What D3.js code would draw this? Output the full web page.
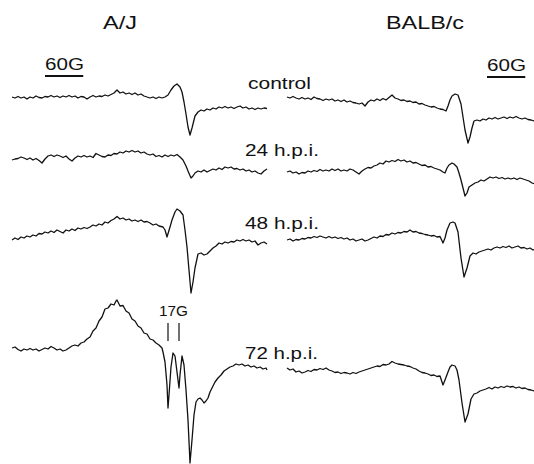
<!DOCTYPE html>
<html>
<head>
<meta charset="utf-8">
<script src="https://cdn.jsdelivr.net/npm/d3@7"></script>
<style>
  body { margin: 0; background: #fff; }
  text { font-family: "Liberation Sans", Arial, sans-serif; fill: #111; }
</style>
</head>
<body>
<svg class="chart" width="534" height="464"></svg>
<script>
// EPR spectra, [point, signal] pairs (signal in arbitrary units, up = positive)
let strains = ["A/J", "BALB/c"];
let timepoints = ["control", "24 h.p.i.", "48 h.p.i.", "72 h.p.i."];
let scaleBarG = 60;
let splittingLabel = "17G";
let hfPoints = [156, 167];   // the two resolved lines in A/J 72 h.p.i.
let sweepG = 400, nPoints = 255;

let ajControl = [[0,3],[3,2],[6,3.5],[9,2],[12,3],[15,1],[18,3],[21,2],[24,4],[27,2.5],[30,2],[33,3.5],[36,3],[39,4.5],[42,3],[45,4],[48,2.5],[51,4],[54,3],[57,4.5],[60,3],[63,4],[66,2],[69,3.5],[72,3],[75,1],[78,3],[81,4.5],[84,3],[87,4],[90,3.5],[93,5],[96,4],[99,5.5],[102,7],[105,10],[108,7],[111,8],[114,6],[117,7],[120,5.5],[123,7],[126,5],[129,6],[132,4],[135,3],[138,2],[141,3],[144,1.5],[147,3],[150,2],[153,3],[156,5],[159,10],[162,14],[165,16],[168,13],[170,8],[172,-2],[174,-14],[176,-27],[178,-35],[180,-28],[183,-16],[186,-12],[189,-10],[192,-11],[195,-9],[198,-10],[201,-8],[204,-9],[207,-7],[210,-8],[213,-6.5],[216,-8],[219,-7],[222,-8.5],[225,-7],[228,-6],[231,-8],[234,-7],[237,-9],[240,-8],[243,-9.5],[246,-8],[249,-9],[252,-8],[255,-8.5]];
let aj24 = [[0,10],[3,11],[6,11.5],[9,13],[12,12],[15,10.5],[18,12],[21,10],[24,11.5],[27,9.5],[30,7],[33,11],[36,14],[39,15],[42,13.5],[45,15],[48,14],[51,12.5],[54,14],[57,11],[60,9],[63,12],[66,14],[69,13],[72,14.5],[75,13],[78,14],[81,12.5],[84,16.5],[87,15],[90,13.5],[93,13],[96,15],[99,14.5],[102,16.5],[105,16],[108,18],[111,17],[114,19],[117,18],[120,19.5],[123,18],[126,19],[129,17],[132,18],[135,16],[138,15],[141,16],[144,13.5],[147,14.5],[150,13],[153,15],[156,13.5],[159,15],[162,14],[165,15.5],[168,13],[171,10],[174,4],[176,-1],[179,-8],[181,-6],[183,-3],[186,-1],[189,-2],[192,0],[195,-2],[198,-0.5],[201,1],[204,0],[207,2],[210,0.5],[213,3],[216,2],[219,3],[222,1],[225,1.5],[228,0],[231,1],[234,-1],[237,0],[240,-2],[243,-1],[246,-3],[249,-4],[252,-1],[255,1]];
let aj48 = [[0,0],[3,2],[6,0.5],[9,3],[12,2],[15,4],[18,3],[21,5],[24,4],[27,6.5],[30,6],[33,8],[36,7],[39,9],[42,7.5],[45,10],[48,8.5],[51,7],[54,10],[57,9],[60,11],[63,9.5],[66,12],[69,11],[72,12.5],[75,11.5],[78,13],[81,15],[84,14],[87,16],[90,15],[93,18],[96,17],[99,19.5],[102,21],[105,23.5],[108,21],[111,22],[114,20],[117,21],[120,19],[123,20],[126,18.5],[129,20],[132,18],[135,18.5],[138,17],[141,15],[144,16],[147,14],[151,13],[153,10],[155,3],[158,13],[160,20],[163,28],[165,31],[168,29],[171,25],[173,10],[175,-7],[177,-30],[179,-53],[181,-42],[183,-28],[186,-14],[189,-13],[192,-15],[195,-14],[198,-11],[201,-8],[204,-6],[207,-3],[210,-4],[213,-2],[216,-3],[219,-1.5],[222,-2],[225,0],[228,-1],[231,0.5],[234,-1],[237,0],[240,-2],[243,-1],[246,-5],[249,-3],[252,-2],[255,-4]];
let aj72 = [[0,2],[3,3],[6,0.5],[9,-1],[12,1],[15,0],[18,1.5],[21,0],[24,1],[27,-1],[30,0.5],[33,2],[36,1],[39,3.5],[42,2],[45,0],[48,1],[51,-1],[54,0],[57,2],[60,4],[63,5],[66,4],[69,7],[72,8],[75,11],[78,13],[81,19],[84,22],[87,29],[90,33],[93,41],[96,42],[99,46],[102,45],[104,49],[105,50],[108,44],[111,44.5],[114,39],[117,37],[120,31],[123,29],[126,24],[129,22],[132,17],[135,16],[138,11],[141,10],[144,7],[147,5],[150,2],[151,-2],[153,-12],[155,-35],[156,-58],[157,-45],[159,-17],[161,-3],[163,-6],[165,-22],[167,-38],[168,-25],[170,-6],[172,-15],[174,-40],[176,-70],[178,-113],[180,-90],[182,-65],[184,-52],[186,-49],[188,-48],[190,-50],[192,-53],[194,-51],[196,-48],[198,-42],[200,-38],[203,-32],[206,-28],[209,-25],[212,-21],[215,-19],[218,-17],[221,-16],[224,-14],[227,-15],[230,-14],[233,-16],[236,-15],[239,-17],[242,-16],[245,-18],[248,-17],[251,-19],[254,-18],[255,-20]];

let balbControl = [[0,3],[3,2],[6,3.5],[9,2],[12,1],[15,2.5],[18,1],[21,2],[24,0.5],[27,3],[30,1.5],[33,1],[36,-0.5],[39,1],[42,0],[45,1],[48,-1],[51,0],[54,-1.5],[57,0],[60,-2],[63,-1],[66,-2.5],[69,-3],[72,-4],[75,-3],[78,-6],[81,-2],[84,0],[87,-1],[90,1],[93,-0.5],[96,1.5],[99,0],[102,2.5],[105,5],[108,2],[111,1],[114,-0.5],[117,0],[120,-1.5],[123,-1],[126,-2.5],[129,-2],[132,-4],[135,-3.5],[138,-5],[141,-6],[144,-7],[147,-6.5],[150,-8],[153,-9],[156,-9.5],[159,-11],[161,-6],[163,0],[165,4],[168,6],[171,5],[174,-4],[176,-17],[178,-30],[181,-43],[183,-37],[185,-28],[187,-21],[190,-20],[193,-21],[196,-19],[199,-20],[202,-18],[205,-19],[208,-17.5],[211,-19],[214,-18],[217,-17],[220,-18.5],[223,-17],[226,-18],[229,-16.5],[232,-18],[235,-19],[238,-18],[241,-19.5],[244,-20],[247,-21],[250,-20]];
let balb24 = [[0,-2],[3,-1],[6,-3],[9,-2],[12,-4],[15,-2.5],[18,-3],[21,-1],[24,-2],[27,-0.5],[30,-1.5],[33,0.5],[36,-1],[39,0],[42,-1],[45,1],[48,-0.5],[51,1],[54,-1],[57,0],[60,-1],[63,1],[66,0],[69,-2],[72,-4],[75,-1],[78,1],[81,2.5],[84,2],[87,4],[90,5],[93,7],[96,6],[99,9],[102,8],[105,9.5],[108,8.5],[111,10.5],[114,9],[117,10],[120,8],[123,9],[126,7],[129,7.5],[132,6],[135,4.5],[138,5],[141,3],[144,3.5],[147,2],[150,1],[153,0],[156,-2],[158,-3],[160,2],[162,5],[165,7],[167,6],[170,3],[172,-3],[174,-10],[176,-18],[178,-26],[180,-23],[182,-17],[185,-15],[188,-13],[191,-12],[194,-10],[197,-11],[200,-9],[203,-7],[206,-8],[209,-7],[212,-8.5],[215,-7.5],[218,-9],[221,-8],[224,-9],[227,-8],[230,-9.5],[233,-8],[236,-9],[239,-10],[242,-11],[245,-13],[248,-14]];
let balb48 = [[0,0],[3,1],[6,-1],[9,0.5],[12,0],[15,1.5],[18,1],[21,2.5],[24,2],[27,3.5],[30,2.5],[33,4],[36,3],[39,2],[42,3.5],[45,2],[48,3],[51,1.5],[54,2.5],[57,1],[60,2],[63,0],[66,1],[69,-1],[72,0],[75,1],[78,-1],[81,0],[84,1.5],[87,3],[90,2],[93,4],[96,3.5],[99,5.5],[102,5],[105,7],[108,6],[111,7.5],[114,7],[117,8.5],[120,8],[123,10],[126,8],[129,8.5],[132,7],[135,6.5],[138,5.5],[141,5],[144,4],[147,4.5],[150,3],[153,3.5],[156,-3],[158,2],[160,10],[163,17],[166,18],[168,17],[171,8],[174,-18],[177,-37],[180,-28],[183,-16],[186,-13],[189,-14],[192,-12],[195,-11],[198,-10],[201,-9],[204,-10],[207,-8],[210,-7],[213,-8],[216,-6.5],[219,-7.5],[222,-6],[225,-8],[228,-7],[231,-6],[234,-8],[237,-7.5],[240,-9],[243,-8],[246,-10],[249,-9]];
let balb72 = [[0,2],[3,0],[6,1],[9,-2],[12,-1],[15,-3],[18,-2],[21,-0.5],[24,-1.5],[27,0.5],[30,0],[33,1.5],[36,0.5],[39,2],[42,0],[45,-1],[48,-2.5],[51,-2],[54,-3.5],[57,-2.5],[60,-3],[63,-4],[66,-2.5],[69,-3.5],[72,-2],[75,-1],[78,0],[81,1],[84,2],[87,3],[90,4],[93,3.5],[96,5.5],[99,5],[102,6],[105,8.5],[108,7],[111,6],[114,5.5],[117,5],[120,4],[123,3.5],[126,2],[129,1],[132,-1],[135,-2.5],[138,-3],[141,-4],[144,-5.5],[147,-5],[150,-6.5],[153,-6],[156,-15],[158,-10],[161,-2],[163,3],[165,5],[168,4],[170,0],[172,-10],[175,-33],[178,-52],[181,-44],[184,-29],[187,-24],[190,-23],[193,-21],[196,-20],[199,-19],[202,-17.5],[205,-19],[208,-17],[211,-18],[214,-16.5],[217,-17.5],[220,-16],[223,-17],[226,-16.5],[229,-18],[232,-17],[235,-18.5],[238,-18],[241,-19.5],[244,-20],[247,-21],[250,-20.5]];

let svg = d3.select(".chart");

// one field scale per strain panel
let xA = d3.scaleLinear().domain([0, sweepG]).range([12, 267]);
let xB = d3.scaleLinear().domain([0, sweepG]).range([287, 542]);
let rowBase = { A: [100, 170, 240, 350], B: [100, 170, 240, 370] };
let toField = pt => pt * sweepG / nPoints;

let traces = [
  { data: ajControl, panel: "A", row: 0 },
  { data: aj24, panel: "A", row: 1 },
  { data: aj48, panel: "A", row: 2 },
  { data: aj72, panel: "A", row: 3 },
  { data: balbControl, panel: "B", row: 0 },
  { data: balb24, panel: "B", row: 1 },
  { data: balb48, panel: "B", row: 2 },
  { data: balb72, panel: "B", row: 3 }
];

traces.forEach(function(t) {
  let x = t.panel == "A" ? xA : xB;
  let base = rowBase[t.panel][t.row];
  let y = d3.scaleLinear().domain([-120, 60]).range([base + 120, base - 60]);
  let line = d3.line()
    .x(d => x(toField(d[0])))
    .y(d => y(d[1]));
  svg.append("path")
    .datum(t.data)
    .attr("d", line)
    .attr("fill", "none")
    .attr("stroke", "#111")
    .attr("stroke-width", 1.3)
    .attr("stroke-linejoin", "round");
});

// text stretched horizontally to the width it has in the figure
function label(str, x, y, size, width, anchor) {
  let t = svg.append("text")
    .attr("font-size", size)
    .text(str);
  let w = t.node().getComputedTextLength();
  let sx = width / w;
  let left = anchor == "middle" ? x - width / 2 : x;
  t.attr("transform", "translate(" + left + "," + y + ") scale(" + sx + ",1)");
  return t;
}

// strain titles
let titlePos = [[103, 34], [386, 78]];
strains.forEach((s, i) => label(s, titlePos[i][0], 29, 18, titlePos[i][1]));

// time point labels
let labelY = [89, 156, 229, 359];
let labelW = [63, 74, 74, 73];
timepoints.forEach((s, i) => label(s, i == 0 ? 248 : 245, labelY[i], 17, labelW[i]));

// 60G scale bars
[[xA, 45, 70, 76], [xB, 487, 71, 77]].forEach(function(b) {
  let len = b[0](scaleBarG) - b[0](0);
  label(scaleBarG + "G", b[1], b[2], 17, 39);
  svg.append("line")
    .attr("x1", b[1]).attr("x2", b[1] + len)
    .attr("y1", b[3]).attr("y2", b[3])
    .attr("stroke", "#111").attr("stroke-width", 1.8);
});

// hyperfine splitting marker
let hfX = hfPoints.map(p => xA(toField(p)));
label(splittingLabel, d3.mean(hfX), 316, 15, 29, "middle");
svg.selectAll(".hf")
  .data(hfX)
  .enter().append("line")
  .attr("class", "hf")
  .attr("x1", d => d).attr("x2", d => d)
  .attr("y1", 323).attr("y2", 341)
  .attr("stroke", "#111").attr("stroke-width", 1.2);
</script>
</body>
</html>
